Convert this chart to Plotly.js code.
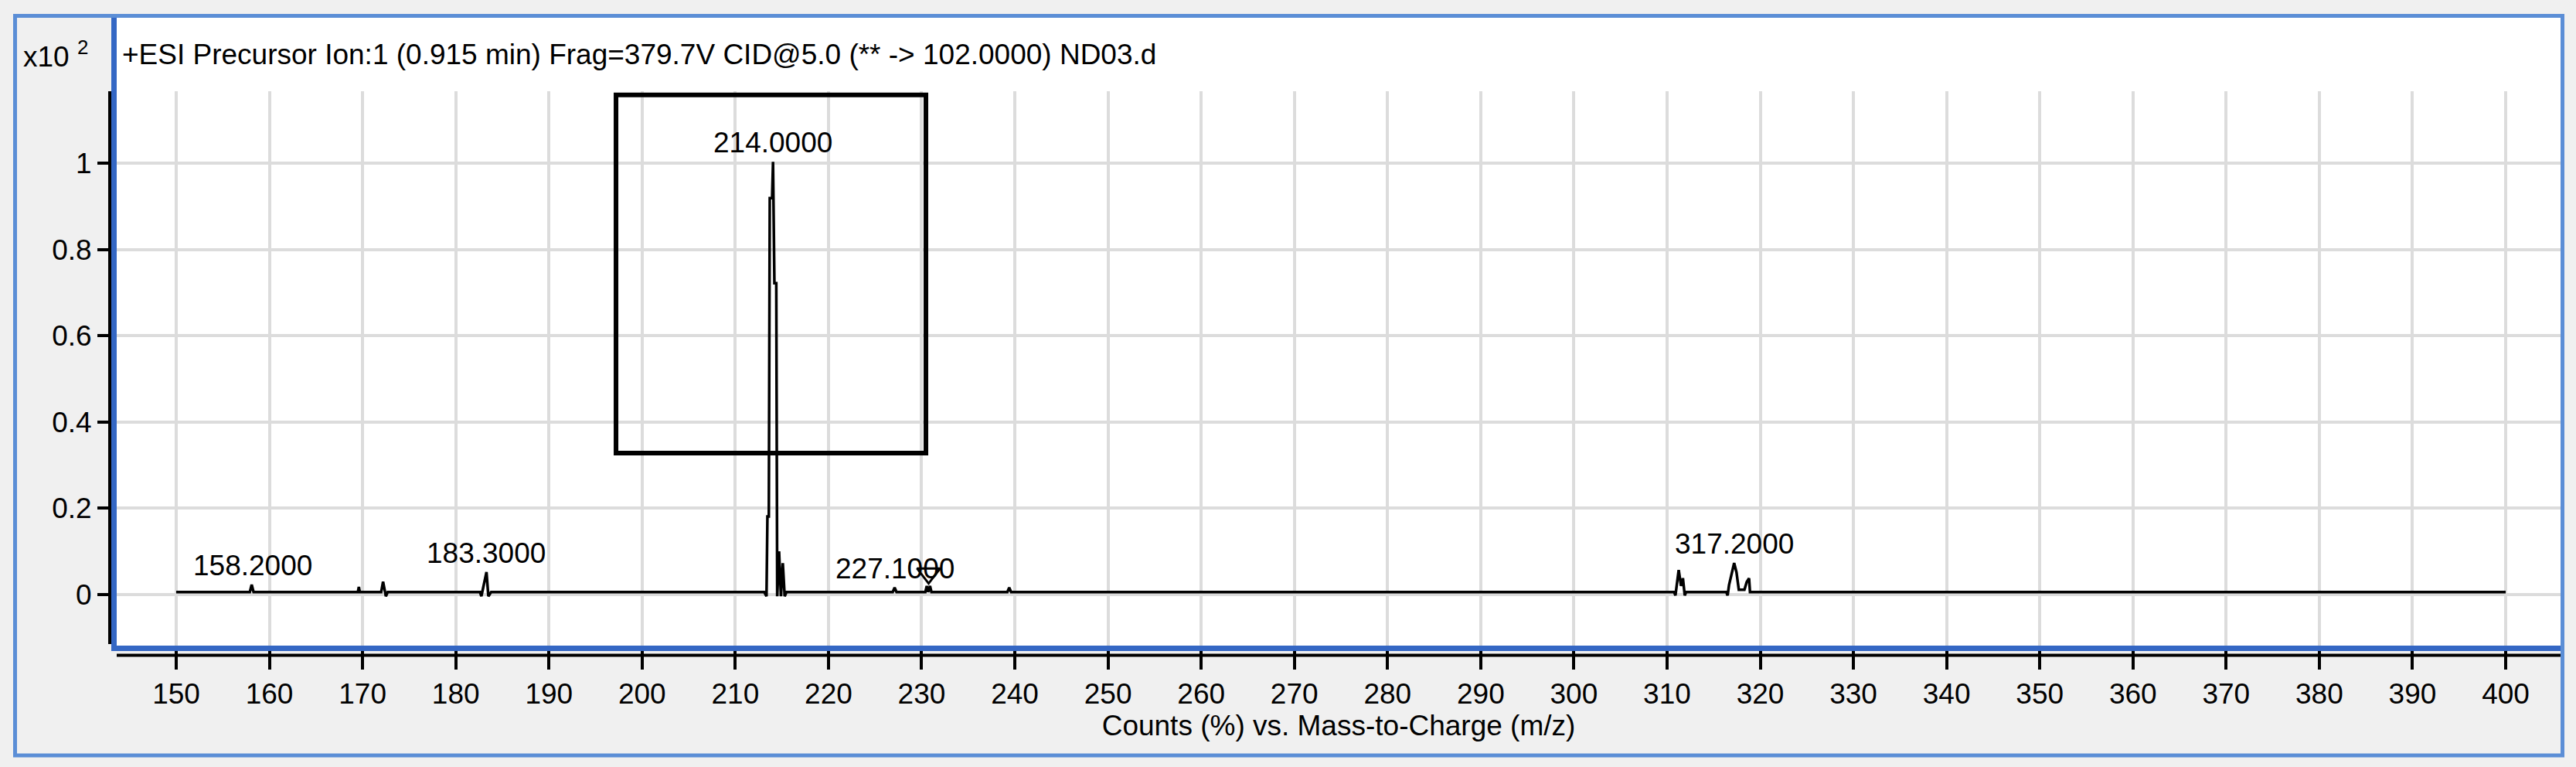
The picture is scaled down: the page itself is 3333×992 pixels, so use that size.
<!DOCTYPE html>
<html><head><meta charset="utf-8">
<script src="https://cdn.plot.ly/plotly-3.0.1.min.js"></script>
<style>html,body{margin:0;padding:0;background:#fff;overflow:hidden}#chart{width:3333px;height:992px}</style>
</head><body><div id="chart"></div>
<script>
// ---- data ----
const specMz = [150.0, 157.9, 158.1, 158.3, 169.5, 169.6, 169.7, 172.0, 172.2, 172.5, 172.7,
  182.6, 182.75, 183.3, 183.5, 183.8,
  213.1, 213.35, 213.45, 213.6, 213.7, 213.95, 214.05, 214.2, 214.4, 214.5, 214.7, 214.9, 215.1, 215.3, 215.5,
  226.9, 227.1, 227.3, 230.4, 230.55, 230.7, 230.9, 231.05, 239.2, 239.4, 239.6,
  310.75, 310.9, 311.25, 311.5, 311.7, 311.9, 312.05,
  316.35, 316.5, 316.65, 317.2, 317.45, 317.7, 318.3, 318.55, 318.8, 318.9, 400.0];
const specInt = [0.006, 0.006, 0.023, 0.006, 0.006, 0.018, 0.006, 0.006, 0.030, -0.004, 0.006,
  0.006, -0.004, 0.052, -0.004, 0.006,
  0.006, -0.004, 0.181, 0.181, 0.919, 0.919, 1.003, 0.722, 0.722, -0.004, 0.100, -0.004, 0.073, -0.004, 0.006,
  0.006, 0.016, 0.006, 0.006, 0.020, 0.006, 0.020, 0.006, 0.006, 0.016, 0.006,
  0.006, -0.002, 0.057, 0.020, 0.038, -0.002, 0.006,
  0.006, -0.002, 0.022, 0.073, 0.052, 0.011, 0.011, 0.029, 0.038, 0.006, 0.006];
const labelMz = [158.2, 183.3, 214.0, 227.1, 317.2];
const labelText = ['158.2000', '183.3000', '214.0000', '227.1000', '317.2000'];
const precursorMz = [230.75];
const precursorInt = [0.049];
const xTickVals = [150,160,170,180,190,200,210,220,230,240,250,260,270,280,290,300,310,320,330,340,350,360,370,380,390,400];
const yTickVals = [0, 0.2, 0.4, 0.6, 0.8, 1];
const yTickText = ['0', '0.2', '0.4', '0.6', '0.8', '1'];
const titleText = '+ESI Precursor Ion:1 (0.915 min) Frag=379.7V CID@5.0 (** -&gt; 102.0000) ND03.d';
const xTitleText = 'Counts (%) vs. Mass-to-Charge (m/z)';
const scaleText = 'x10 <sup>2</sup>';

// ---- font choice ----
function hasFont(name){
  const c = document.createElement('canvas').getContext('2d');
  const s = '0123456789 Precursor Ion Mass';
  c.font = '72px monospace'; const a = c.measureText(s).width;
  c.font = '72px "' + name + '", monospace'; const b = c.measureText(s).width;
  return Math.abs(a - b) > 0.5;
}
const narrow = hasFont('Liberation Sans Narrow');
const FAM = narrow ? '"Liberation Sans Narrow", "Liberation Sans", Arial, sans-serif' : '"Liberation Sans", Arial, sans-serif';
const FS = narrow ? 44 : 37;

// ---- geometry (pixels of the 3333x992 page) ----
const W = 3333, H = 992, L = 151, R = 3313, T = 118, B = 835;
const X = px => (px - L) / (R - L);
const Y = py => (B - py) / (B - T);
const BLUE_OUT = '#5b8ed6', BLUE_IN = '#3467c4', GRID = '#dcdcdc';

const traces = [
  {x: specMz, y: specInt, type: 'scatter', mode: 'lines',
   line: {color: '#000', width: 3.5}, hoverinfo: 'x+y', cliponaxis: true},
  {x: precursorMz, y: precursorInt, type: 'scatter', mode: 'markers',
   marker: {symbol: 'triangle-down-open', size: 26, color: '#000', line: {color: '#000', width: 3}}}
];

function localMax(m){
  let best = -Infinity;
  for (let i = 0; i < specMz.length; i++) if (Math.abs(specMz[i] - m) <= 0.8) best = Math.max(best, specInt[i]);
  return best;
}
const annotations = labelMz.map((m, i) => ({
  x: m, y: localMax(m), xref: 'x', yref: 'y', text: labelText[i], showarrow: false,
  xanchor: 'center', yanchor: 'bottom', yshift: 2, font: {family: FAM, size: FS, color: '#000'}
}));
annotations.push({x: X(28), y: Y(70), xref: 'paper', yref: 'paper', text: scaleText, showarrow: false,
  xanchor: 'left', yanchor: 'middle', font: {family: FAM, size: FS, color: '#000'}});

const shapes = [
  {type: 'rect', xref: 'paper', yref: 'paper', x0: X(151), x1: X(3313), y0: Y(118), y1: Y(22),
   fillcolor: '#ffffff', line: {width: 0}, layer: 'below'},
  {type: 'line', xref: 'paper', yref: 'paper', x0: X(142), x1: X(142), y0: Y(118), y1: Y(833),
   line: {color: '#000', width: 4}, layer: 'above'},
  {type: 'line', xref: 'paper', yref: 'paper', x0: X(151), x1: X(3313), y0: Y(847.5), y1: Y(847.5),
   line: {color: '#000', width: 4}, layer: 'above'},
  {type: 'line', xref: 'paper', yref: 'paper', x0: X(147.5), x1: X(147.5), y0: Y(22), y1: Y(842),
   line: {color: BLUE_IN, width: 7}, layer: 'above'},
  {type: 'line', xref: 'paper', yref: 'paper', x0: X(144), x1: X(3313), y0: Y(838.5), y1: Y(838.5),
   line: {color: BLUE_IN, width: 7}, layer: 'above'},
  {type: 'rect', xref: 'paper', yref: 'paper', x0: X(19.5), x1: X(3315.5), y0: Y(977), y1: Y(20.5),
   line: {color: BLUE_OUT, width: 5}, fillcolor: 'rgba(0,0,0,0)', layer: 'above'},
  {type: 'rect', xref: 'x', yref: 'y', x0: 197.2, x1: 230.46, y0: 0.328, y1: 1.158,
   line: {color: '#000', width: 6}, fillcolor: 'rgba(0,0,0,0)', layer: 'above'}
];

const layout = {
  width: W, height: H, autosize: false,
  margin: {l: L, r: W - R, t: T, b: H - B, pad: 0},
  paper_bgcolor: '#f0f0f0', plot_bgcolor: '#ffffff',
  showlegend: false,
  font: {family: FAM, size: FS, color: '#000'},
  title: {text: titleText, font: {family: FAM, size: FS, color: '#000'},
          xref: 'container', yref: 'container', x: 158 / W, xanchor: 'left', y: 1 - 70 / H, yanchor: 'middle'},
  xaxis: {range: [143.613, 405.89], tickvals: xTickVals, ticktext: xTickVals.map(String),
          showgrid: true, gridcolor: GRID, gridwidth: 3.5, zeroline: false, showline: false,
          ticks: 'outside', ticklen: 30, tickwidth: 3.5, tickcolor: '#000',
          tickfont: {family: FAM, size: FS, color: '#000'},
          title: {text: xTitleText, font: {family: FAM, size: FS, color: '#000'}, standoff: 4}},
  yaxis: {range: [-0.1183, 1.1667], tickvals: yTickVals, ticktext: yTickText,
          showgrid: true, gridcolor: GRID, gridwidth: 3.5, zeroline: false, showline: false,
          ticks: 'outside', ticklen: 24, tickwidth: 3.5, tickcolor: '#000',
          tickfont: {family: FAM, size: FS, color: '#000'}},
  shapes: shapes,
  annotations: annotations
};

Plotly.newPlot('chart', traces, layout, {displayModeBar: false, responsive: false});
</script>
</body></html>
